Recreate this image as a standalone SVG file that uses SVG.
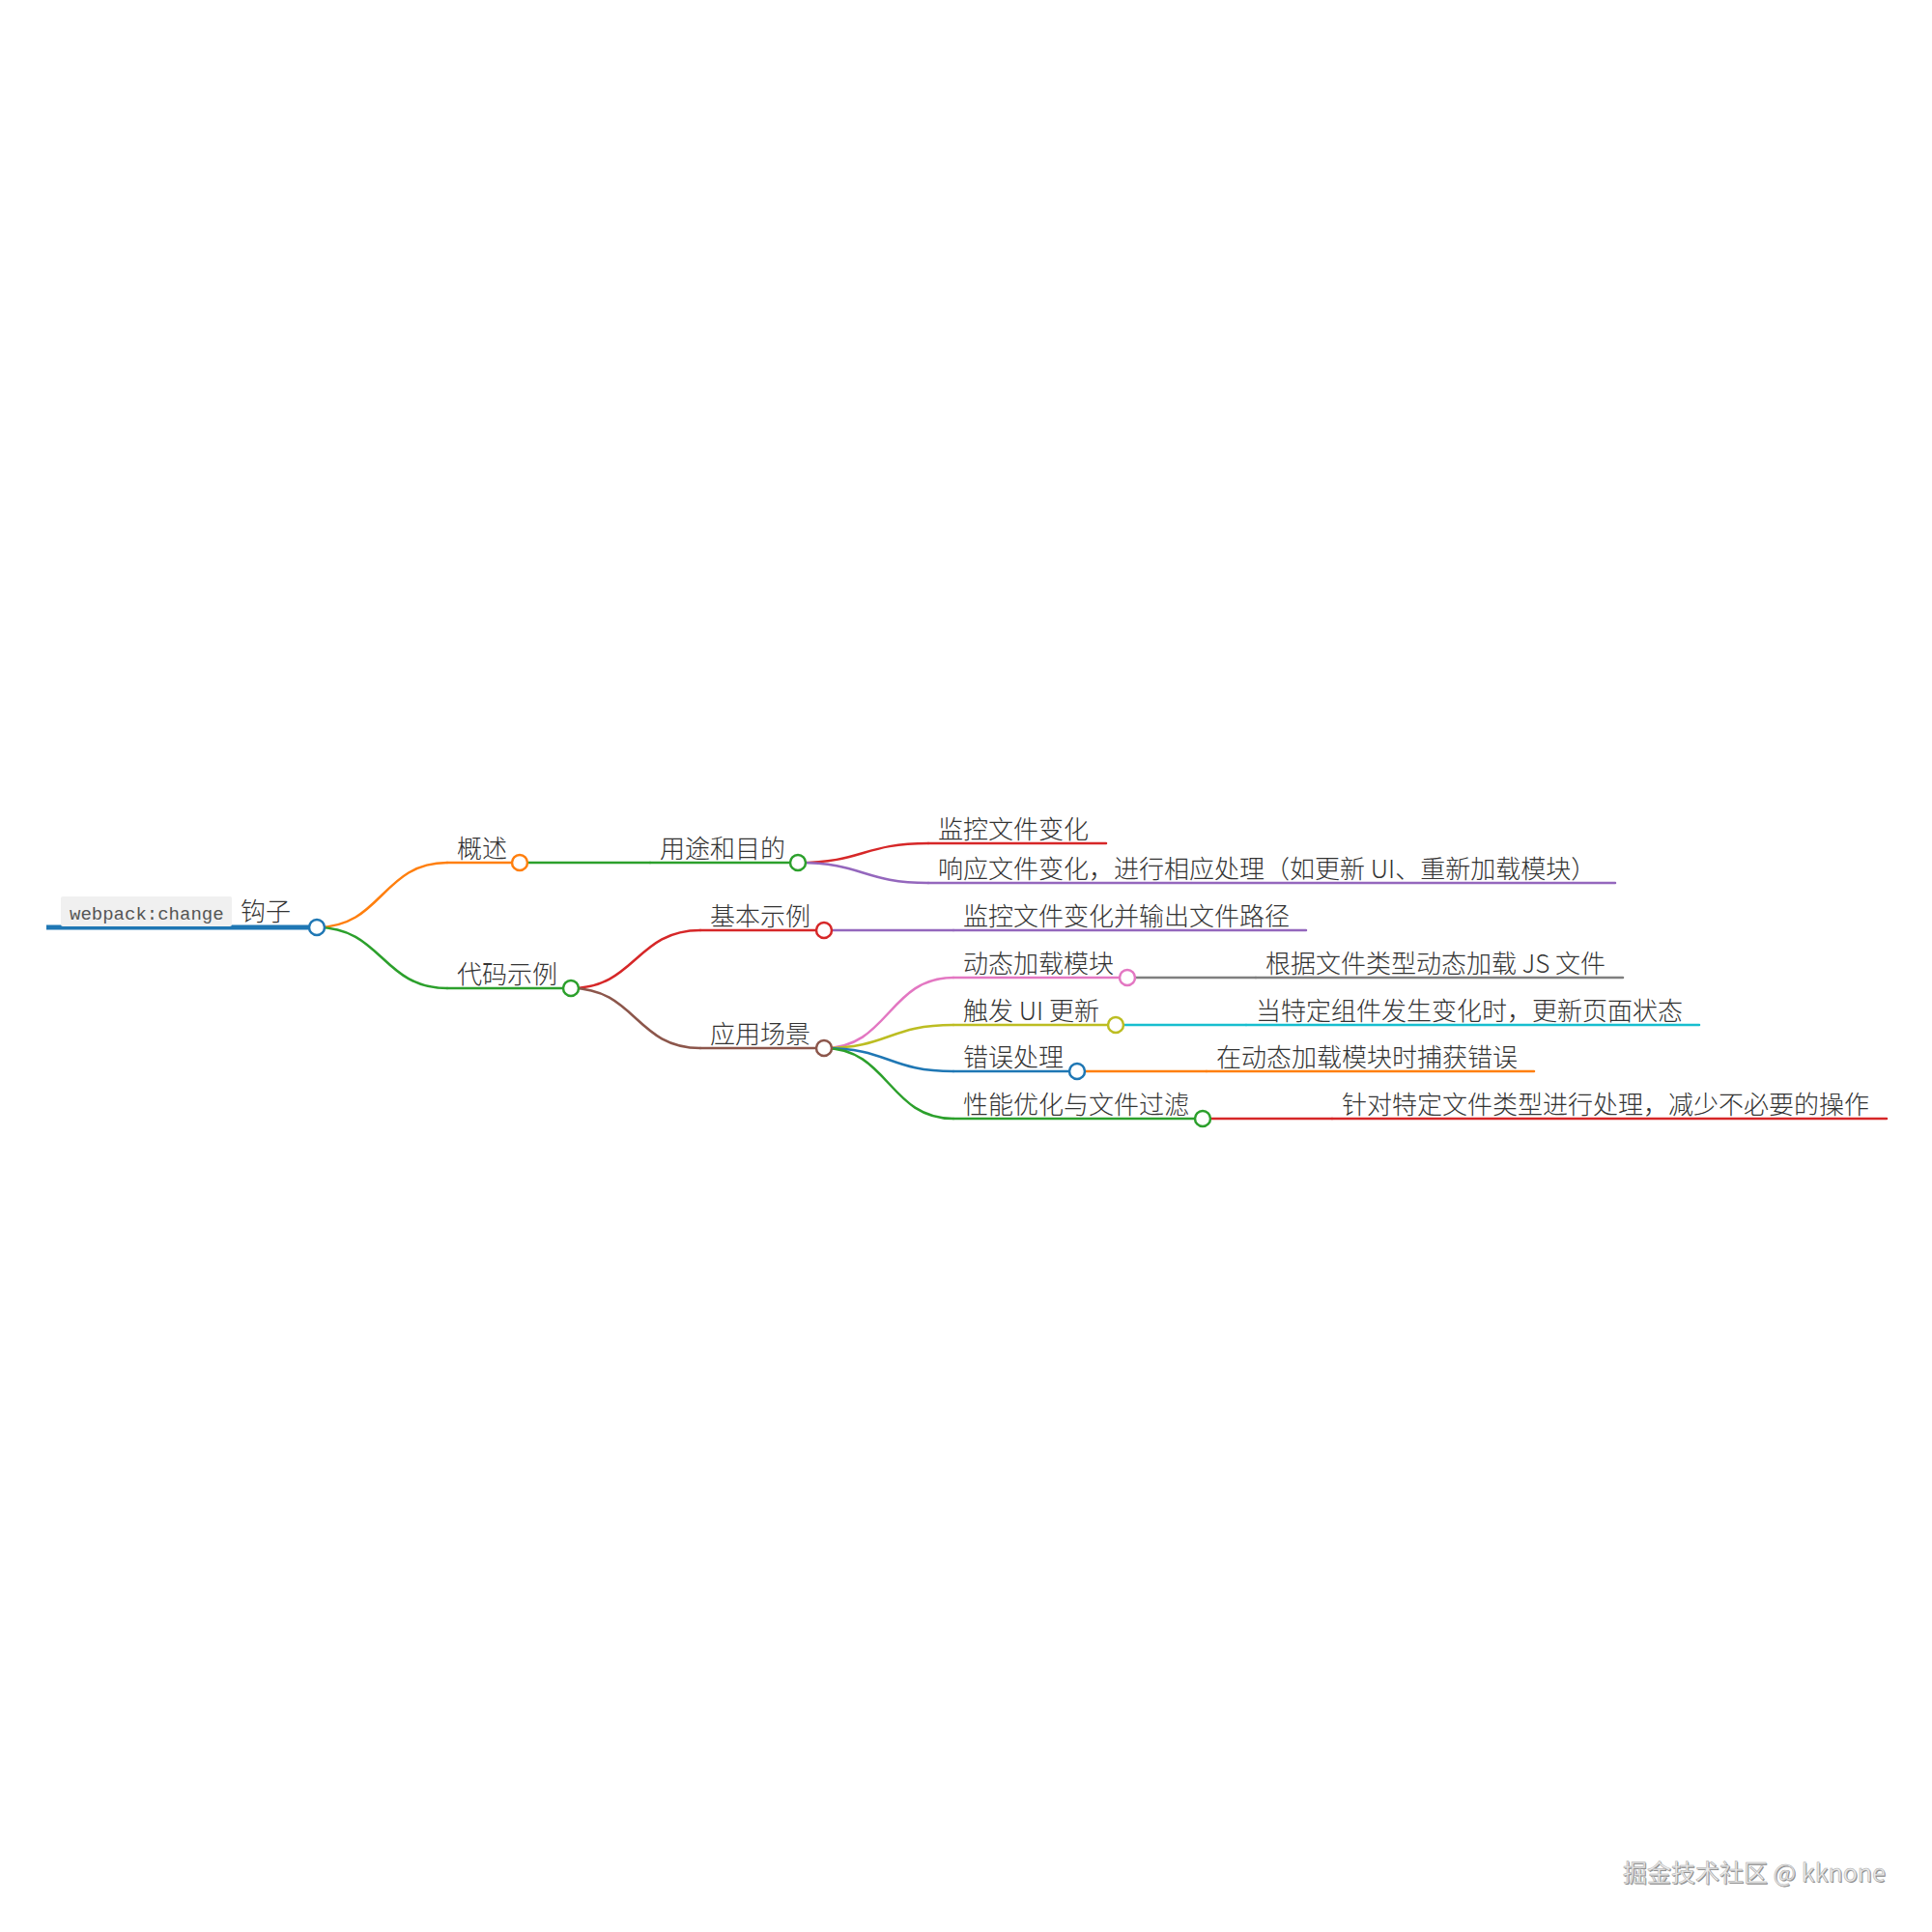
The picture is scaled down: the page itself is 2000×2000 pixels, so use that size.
<svg xmlns="http://www.w3.org/2000/svg" width="2000" height="2000" viewBox="0 0 2000 2000">
<style>
.t{font-family:"Noto Sans CJK SC","Microsoft YaHei",sans-serif;font-size:26px;font-weight:300;fill:#333}
.code{font-family:"Liberation Mono","DejaVu Sans Mono",monospace;font-size:19px;fill:#555}
.l{fill:none;stroke-width:2.5;stroke-linecap:round}
.c{fill:#fff;stroke-width:2.5}
.wm{font-family:"Noto Sans CJK SC",sans-serif;font-size:25px}
</style>
<rect width="2000" height="2000" fill="#fff"/>
<g id="connectors">
<path class="l" stroke="#ff7f0e" d="M328 960 C395.5 960 395.5 893 463 893"/>
<path class="l" stroke="#2ca02c" d="M328 960 C395.5 960 395.5 1023 463 1023"/>
<path class="l" stroke="#2ca02c" d="M538 893 H673"/>
<path class="l" stroke="#d62728" d="M591 1023 C658 1023 658 963 725 963"/>
<path class="l" stroke="#8c564b" d="M591 1023 C658 1023 658 1085 725 1085"/>
<path class="l" stroke="#d62728" d="M826 893 C893.5 893 893.5 873 961 873"/>
<path class="l" stroke="#9467bd" d="M826 893 C893.5 893 893.5 914 961 914"/>
<path class="l" stroke="#9467bd" d="M853 963 H987"/>
<path class="l" stroke="#e377c2" d="M853 1085 C920 1085 920 1012 987 1012"/>
<path class="l" stroke="#bcbd22" d="M853 1085 C920 1085 920 1061 987 1061"/>
<path class="l" stroke="#1f77b4" d="M853 1085 C920 1085 920 1109 987 1109"/>
<path class="l" stroke="#2ca02c" d="M853 1085 C920 1085 920 1158 987 1158"/>
<path class="l" stroke="#7f7f7f" d="M1167 1012 H1300"/>
<path class="l" stroke="#17becf" d="M1155 1061 H1290"/>
<path class="l" stroke="#ff7f0e" d="M1115 1109 H1249"/>
<path class="l" stroke="#d62728" d="M1245 1158 H1379"/>
</g>
<g id="n-root">
<path d="M48 960 H328" stroke="#1f77b4" stroke-width="5" fill="none"/>
<rect x="63" y="928" width="177" height="31" rx="2" fill="#f0f0f0"/>
<text class="code" x="72" y="952">webpack:change</text>
<text class="t" x="249" y="953">钩子</text>
<circle class="c" cx="328" cy="960" r="8" stroke="#1f77b4"/>
</g>
<g id="n-overview">
<path class="l" stroke="#ff7f0e" d="M463 893 H538"/>
<text class="t" x="473" y="888">概述</text>
<circle class="c" cx="538" cy="893" r="8" stroke="#ff7f0e"/>
</g>
<g id="n-code">
<path class="l" stroke="#2ca02c" d="M463 1023 H591"/>
<text class="t" x="473" y="1018">代码示例</text>
<circle class="c" cx="591" cy="1023" r="8" stroke="#2ca02c"/>
</g>
<g id="n-purpose">
<path class="l" stroke="#2ca02c" d="M673 893 H826"/>
<text class="t" x="683" y="888">用途和目的</text>
<circle class="c" cx="826" cy="893" r="8" stroke="#2ca02c"/>
</g>
<g id="n-basic">
<path class="l" stroke="#d62728" d="M725 963 H853"/>
<text class="t" x="735" y="958">基本示例</text>
<circle class="c" cx="853" cy="963" r="8" stroke="#d62728"/>
</g>
<g id="n-scenes">
<path class="l" stroke="#8c564b" d="M725 1085 H853"/>
<text class="t" x="735" y="1080">应用场景</text>
<circle class="c" cx="853" cy="1085" r="8" stroke="#8c564b"/>
</g>
<g id="n-monitor">
<path class="l" stroke="#d62728" d="M961 873 H1145"/>
<text class="t" x="971" y="868">监控文件变化</text>
</g>
<g id="n-respond">
<path class="l" stroke="#9467bd" d="M961 914 H1672"/>
<text class="t" x="971" y="909">响应文件变化，进行相应处理（如更新 UI、重新加载模块）</text>
</g>
<g id="n-monitor-output">
<path class="l" stroke="#9467bd" d="M987 963 H1352"/>
<text class="t" x="997" y="958">监控文件变化并输出文件路径</text>
</g>
<g id="n-dynamic">
<path class="l" stroke="#e377c2" d="M987 1012 H1167"/>
<text class="t" x="997" y="1007">动态加载模块</text>
<circle class="c" cx="1167" cy="1012" r="8" stroke="#e377c2"/>
</g>
<g id="n-ui">
<path class="l" stroke="#bcbd22" d="M987 1061 H1155"/>
<text class="t" x="997" y="1056">触发 UI 更新</text>
<circle class="c" cx="1155" cy="1061" r="8" stroke="#bcbd22"/>
</g>
<g id="n-error">
<path class="l" stroke="#1f77b4" d="M987 1109 H1115"/>
<text class="t" x="997" y="1104">错误处理</text>
<circle class="c" cx="1115" cy="1109" r="8" stroke="#1f77b4"/>
</g>
<g id="n-perf">
<path class="l" stroke="#2ca02c" d="M987 1158 H1245"/>
<text class="t" x="997" y="1153">性能优化与文件过滤</text>
<circle class="c" cx="1245" cy="1158" r="8" stroke="#2ca02c"/>
</g>
<g id="n-dynamic-leaf">
<path class="l" stroke="#7f7f7f" d="M1300 1012 H1680"/>
<text class="t" x="1310" y="1007">根据文件类型动态加载 JS 文件</text>
</g>
<g id="n-ui-leaf">
<path class="l" stroke="#17becf" d="M1290 1061 H1759"/>
<text class="t" x="1300" y="1056">当特定组件发生变化时，更新页面状态</text>
</g>
<g id="n-error-leaf">
<path class="l" stroke="#ff7f0e" d="M1249 1109 H1588"/>
<text class="t" x="1259" y="1104">在动态加载模块时捕获错误</text>
</g>
<g id="n-perf-leaf">
<path class="l" stroke="#d62728" d="M1379 1158 H1953"/>
<text class="t" x="1389" y="1153">针对特定文件类型进行处理，减少不必要的操作</text>
</g>
<g id="watermark">
<text class="wm" x="1681" y="1949" fill="#8a8a8a">掘金技术社区 @ kknone</text>
<text class="wm" x="1680" y="1948" fill="#ececec" stroke="#a8a8a8" stroke-width="0.5">掘金技术社区 @ kknone</text>
</g>
</svg>
